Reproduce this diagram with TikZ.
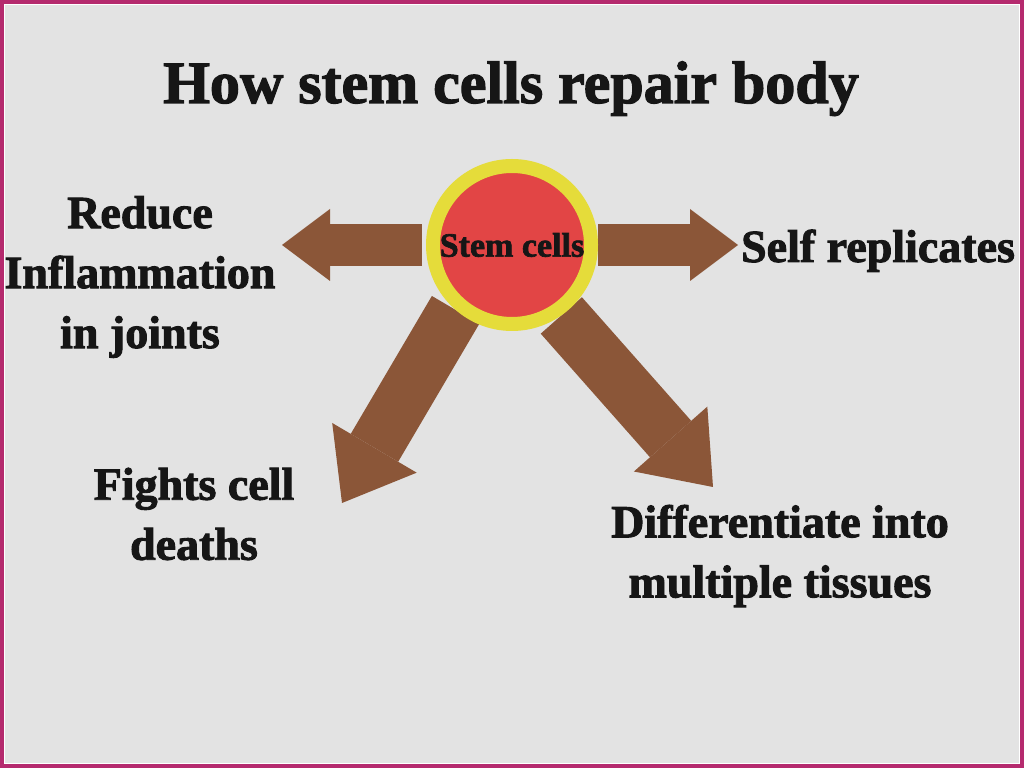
\documentclass[tikz,border=0pt]{standalone}
\usepackage{fontspec}
\setmainfont{Liberation Serif}[BoldFeatures={FakeBold=2}]
\usetikzlibrary{arrows.meta}

\definecolor{pagegray}{HTML}{E3E3E3}
\definecolor{framepink}{HTML}{B52A6E}
\definecolor{arrowbrown}{HTML}{8B5638}
\definecolor{cellred}{HTML}{E24545}
\definecolor{cellyellow}{HTML}{E5DC3A}
\definecolor{ink}{HTML}{161616}

\pgfdeclarelayer{bg}
\pgfdeclarelayer{arrows}
\pgfsetlayers{bg,arrows,main}

\begin{document}
\begin{tikzpicture}[x=1pt,y=1pt]
   \tikzstyle{txt}=[font=\fontsize{46}{60}\selectfont\bfseries, align=center, text=ink, inner sep=0pt]
   \tikzstyle{head}=[font=\fontsize{60}{60}\selectfont\bfseries, text=ink, inner sep=0pt]
   \tikzstyle{cell}=[circle, fill=cellred, draw=cellyellow, line width=14pt, minimum size=158pt, inner sep=0pt, text=ink, font=\fontsize{34}{34}\selectfont\bfseries]
   \tikzstyle{hfat}=[draw=arrowbrown, line width=42pt, -{Triangle[length=48pt,width=72pt,line width=0pt]}]
   \tikzstyle{dfat}=[draw=arrowbrown, line width=55pt, -{Triangle[length=64pt,width=98pt,line width=0pt]}]

\begin{pgfonlayer}{bg}
   \fill[pagegray] (0,0) rectangle (1024,768);
   \draw[framepink, line width=4pt] (2,2) rectangle (1022,766);
   \draw[white, line width=1pt] (4.5,4.5) rectangle (1019.5,763.5);
\end{pgfonlayer}

\node[head, anchor=base] (title) at (511,665) {How stem cells repair body};

\node[cell] (stem) at (512,523) {Stem cells};

\coordinate (ltip) at (282,523);
\coordinate (rtip) at (738,523);
\coordinate (lltip) at (342,265);
\coordinate (lrtip) at (713,281);

\begin{pgfonlayer}{arrows}
   \draw[hfat] ([xshift=-4pt]stem.west) -- (ltip);
   \draw[hfat] (stem.east) -- (rtip);
   \draw[dfat] (stem.229) -- (lltip);
   \draw[dfat] (stem.305) -- (lrtip);
\end{pgfonlayer}

\node[txt] (reduce) at (140,491) {Reduce\\Inflammation\\in joints};
\node[txt, anchor=base] (self) at (878,506) {Self replicates};
\node[txt] (fights) at (194,254) {Fights cell\\deaths};
\node[txt] (differ) at (780,212) {Differentiate into\\multiple tissues};

\end{tikzpicture}
\end{document}
